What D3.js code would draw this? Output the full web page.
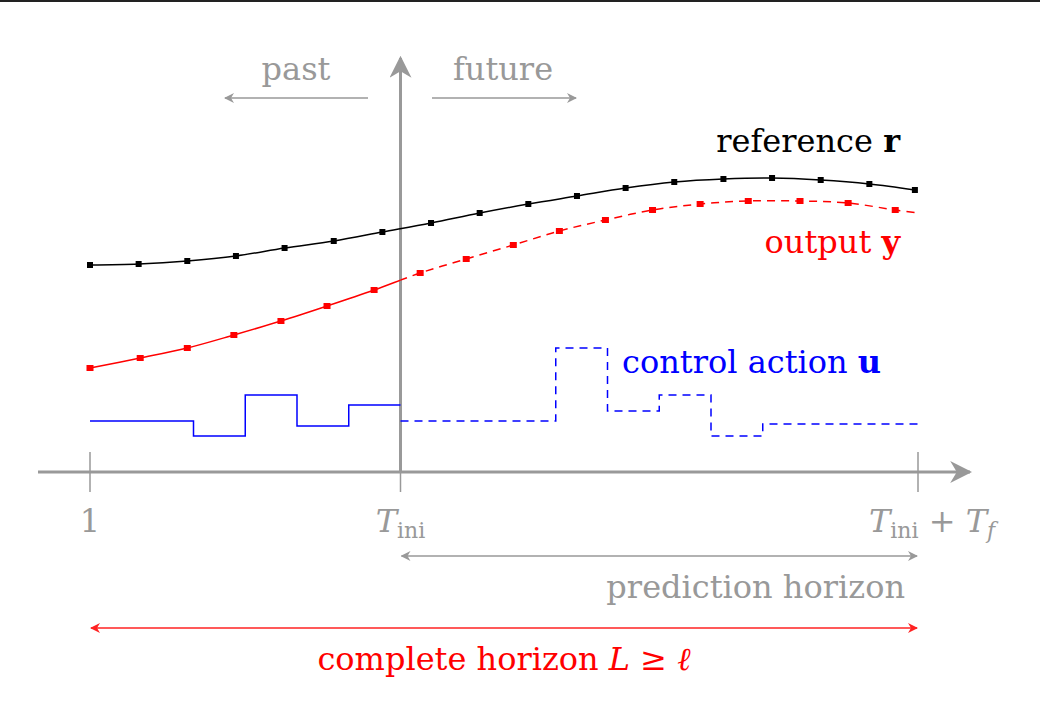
<!DOCTYPE html>
<html><head><meta charset="utf-8">
<script src="https://cdn.jsdelivr.net/npm/d3@7"></script>
<style>body{margin:0;background:#fff}svg{display:block}</style>
</head><body>
<svg id="c" width="1040" height="721"></svg>
<script>
// time is in control steps: 0 = sample "1", 6 = T_ini, 16 = T_ini + T_f
var uSteps = [0,1,2,3,4,5,6,7,8,9,10,11,12,13,14,15];
var uValues = [12.75,12.75,9,19.25,11.5,16.75,12.75,12.75,12.75,31,15.25,19.25,9,12,12,12];
var refTimes = [0,0.94,1.88,2.82,3.76,4.71,5.65,6.59,7.53,8.47,9.41,10.35,11.29,12.24,13.18,14.12,15.06,15.94];
var refValues = [51.75,52,52.75,54,56,57.75,60,62.25,64.75,67,69,71,72.5,73.25,73.5,73,72,70.5];
var outTimes = [0,0.97,1.88,2.78,3.69,4.58,5.49,6.38,7.27,8.18,9.07,9.96,10.87,11.79,12.72,13.72,14.65,15.56,16];
var outValues = [26,28.5,31,34.25,37.75,41.5,45.5,49.75,53.25,56.75,60.25,63,65.5,67,67.75,67.75,67.25,65.5,64.75];
var tickLabels = ['1', 'T_ini', 'T_ini+T_f'];
var tickSteps = [0, 6, 16];

var svg = d3.select('#c');
var grey = '#999', font = '"DejaVu Serif", "Liberation Serif", serif';
var x = d3.scaleLinear().domain([0, 16]).range([90, 918]);
var y = d3.scaleLinear().domain([0, 100]).range([472, 72]);

svg.append('rect').attr('width', 1040).attr('height', 2).attr('fill', '#222');

var defs = svg.append('defs');
function marker(id, col) {
  defs.append('marker').attr('id', id).attr('viewBox', '0 0 10 10').attr('refX', 9).attr('refY', 5)
    .attr('markerWidth', 10).attr('markerHeight', 10).attr('markerUnits', 'userSpaceOnUse').attr('orient', 'auto-start-reverse')
    .append('path').attr('d', 'M0,0 L10,5 L0,10 L3,5 Z').attr('fill', col);
}
marker('ag', grey); marker('ar', '#f22');

function arrow(x1, y1, x2, y2, col, m, both, w) {
  var l = svg.append('line').attr('x1', x1).attr('y1', y1).attr('x2', x2).attr('y2', y2)
    .attr('stroke', col).attr('stroke-width', w || 1.5).attr('marker-end', 'url(#' + m + ')');
  if (both) l.attr('marker-start', 'url(#' + m + ')');
}

// axes
defs.append('marker').attr('id', 'big').attr('viewBox', '0 0 10 10').attr('refX', 9).attr('refY', 5)
  .attr('markerWidth', 22).attr('markerHeight', 22).attr('markerUnits', 'userSpaceOnUse').attr('orient', 'auto')
  .append('path').attr('d', 'M0,0 L10,5 L0,10 L3,5 Z').attr('fill', grey);
svg.append('line').attr('x1', 38).attr('x2', 970).attr('y1', y(0)).attr('y2', y(0)).attr('stroke', grey).attr('stroke-width', 3).attr('marker-end', 'url(#big)');
svg.append('line').attr('x1', x(6)).attr('x2', x(6)).attr('y1', y(0)).attr('y2', 58).attr('stroke', grey).attr('stroke-width', 3).attr('marker-end', 'url(#big)');
tickSteps.forEach(function(t) {
  svg.append('line').attr('x1', x(t)).attr('x2', x(t)).attr('y1', y(0) - 20).attr('y2', y(0) + 20).attr('stroke', grey).attr('stroke-width', 1.5);
});

function txt(xp, yp, anchor, col, size) {
  return svg.append('text').attr('x', xp).attr('y', yp).attr('text-anchor', anchor)
    .attr('fill', col).attr('font-family', font).attr('font-size', size || 32);
}
txt(x(0), 532, 'middle', grey).text(tickLabels[0]);
var t1 = txt(x(6), 532, 'middle', grey);
t1.append('tspan').attr('font-style', 'italic').text('T');
t1.append('tspan').attr('font-size', 22).attr('dy', 6).text('ini');
var t2 = txt(x(16) + 14, 532, 'middle', grey);
t2.append('tspan').attr('font-style', 'italic').text('T');
t2.append('tspan').attr('font-size', 22).attr('dy', 6).text('ini');
t2.append('tspan').attr('dy', -6).text(' + ');
t2.append('tspan').attr('font-style', 'italic').text('T');
t2.append('tspan').attr('font-size', 22).attr('font-style', 'italic').attr('dy', 6).text('f');

// past / future
txt(296, 80, 'middle', grey).text('past');
arrow(368, 98, 225, 98, grey, 'ag');
txt(503, 80, 'middle', grey).text('future');
arrow(432, 98, 576, 98, grey, 'ag');

// horizons
arrow(x(6) + 1, 556, x(16) - 1, 556, grey, 'ag', true);
txt(905, 598, 'end', grey).text('prediction horizon');
arrow(x(0) + 1, 628, x(16) - 1, 628, '#f22', 'ar', true);
var ch = txt(504, 670, 'middle', '#f00');
ch.append('tspan').text('complete horizon ');
ch.append('tspan').attr('font-style', 'italic').text('L');
ch.append('tspan').text(' ≥ ');
ch.append('tspan').attr('font-style', 'italic').text('ℓ');

// reference
var refPts = refTimes.map(function(t, i) { return [x(t), y(refValues[i])]; });
var smooth = d3.line().curve(d3.curveCatmullRom);
svg.append('path').attr('d', smooth(refPts)).attr('fill', 'none').attr('stroke', '#000').attr('stroke-width', 1.5);
svg.selectAll('.rp').data(refPts).enter().append('rect').attr('x', function(d) { return d[0] - 3; })
  .attr('y', function(d) { return d[1] - 3; }).attr('width', 6).attr('height', 6).attr('fill', '#000');

// output
var outPts = outTimes.map(function(t, i) { return [x(t), y(outValues[i])]; });
defs.append('clipPath').attr('id', 'cp').append('rect').attr('x', 0).attr('y', 0).attr('width', x(6)).attr('height', 721);
defs.append('clipPath').attr('id', 'cf').append('rect').attr('x', x(6)).attr('y', 0).attr('width', 700).attr('height', 721);
svg.append('path').attr('d', smooth(outPts)).attr('clip-path', 'url(#cp)').attr('fill', 'none').attr('stroke', '#f00').attr('stroke-width', 1.5);
svg.append('path').attr('d', smooth(outPts)).attr('clip-path', 'url(#cf)').attr('fill', 'none').attr('stroke', '#f00').attr('stroke-width', 1.5).attr('stroke-dasharray', '8,6');
svg.selectAll('.op').data(outPts.slice(0, -1)).enter().append('rect').attr('x', function(d) { return d[0] - 3.5; })
  .attr('y', function(d) { return d[1] - 3; }).attr('width', 7).attr('height', 6).attr('fill', '#f00');

// control action
function stepPts(from, to) {
  var p = [];
  for (var i = from; i < to; i++) { p.push([x(uSteps[i]), y(uValues[i])]); p.push([x(uSteps[i] + 1), y(uValues[i])]); }
  return p;
}
var ln = d3.line();
svg.append('path').attr('d', ln(stepPts(0, 6))).attr('fill', 'none').attr('stroke', '#00f').attr('stroke-width', 1.5);
svg.append('path').attr('d', ln(stepPts(6, 16))).attr('fill', 'none').attr('stroke', '#00f').attr('stroke-width', 1.5).attr('stroke-dasharray', '8,6');

// labels
var rl = txt(900, 152, 'end', '#000');
rl.append('tspan').text('reference ');
rl.append('tspan').attr('font-weight', 'bold').text('r');
var yl = txt(900, 253, 'end', '#f00');
yl.append('tspan').text('output ');
yl.append('tspan').attr('font-weight', 'bold').text('y');
var ul = txt(622, 373, 'start', '#00f');
ul.append('tspan').text('control action ');
ul.append('tspan').attr('font-weight', 'bold').text('u');
</script>
</body></html>
